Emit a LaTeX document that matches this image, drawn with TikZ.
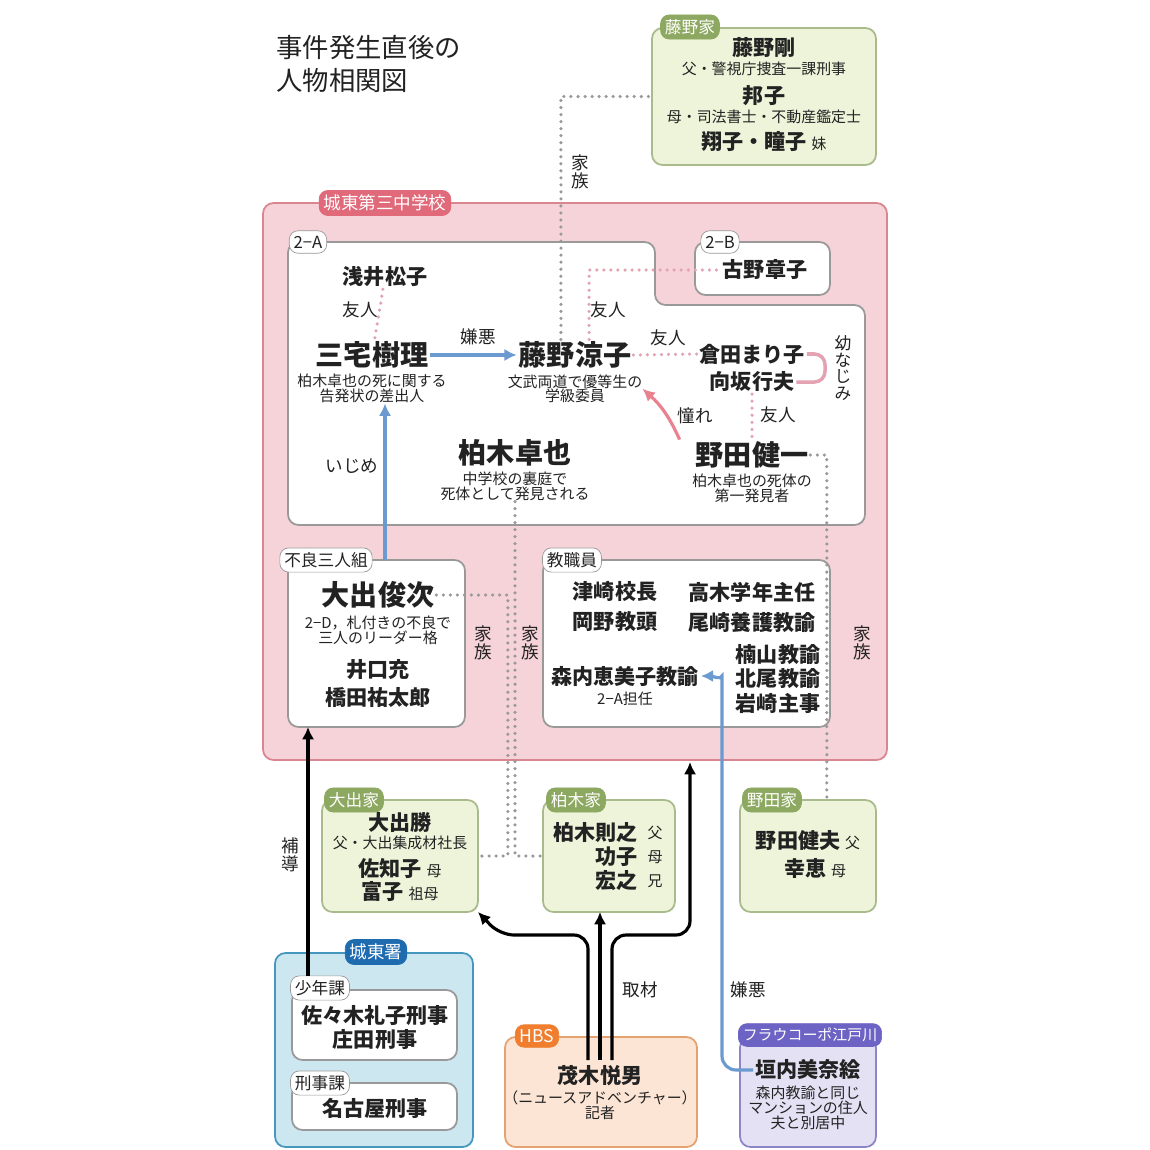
\documentclass[tikz,border=0pt]{standalone}
\usepackage{fontspec}
\setmainfont{Noto Sans CJK JP}
\usetikzlibrary{positioning,arrows.meta}
\definecolor{ink}{HTML}{222222}
\definecolor{grnfill}{HTML}{EEF4DA}
\definecolor{grnline}{HTML}{A9BB8C}
\definecolor{grntag}{HTML}{8DA860}
\definecolor{pnkfill}{HTML}{F6D3D8}
\definecolor{pnkline}{HTML}{D8868F}
\definecolor{pnktag}{HTML}{E0697A}
\definecolor{pnkdot}{HTML}{E3A3B2}
\definecolor{bluefill}{HTML}{CDE7F0}
\definecolor{blueline}{HTML}{4597BE}
\definecolor{bluetag}{HTML}{1E6BB0}
\definecolor{orgfill}{HTML}{FCE5D4}
\definecolor{orgline}{HTML}{E5A271}
\definecolor{orgtag}{HTML}{F07E2E}
\definecolor{purfill}{HTML}{E4E1F4}
\definecolor{purline}{HTML}{8C86C6}
\definecolor{purtag}{HTML}{6C63C4}
\definecolor{arrowblue}{HTML}{6A9AD0}
\definecolor{dotgray}{HTML}{999999}
\newcommand\fs[1]{\fontsize{#1}{#1}\selectfont}
\newcommand\panel[6]{\node[#6, minimum width={(#4-#2)*0.02cm}, minimum height={(#5-#3)*0.02cm}] (#1) at ({(#2+#4)/2},{(#3+#5)/2}) {};}
\tikzset{
    box/.style={draw, rounded corners=6pt, line width=1pt, inner sep=0, outer sep=0},
    whitebox/.style={box, fill=white, draw=gray!80},
    tag/.style={draw, rounded corners=5pt, inner sep=2.5pt, minimum height=0.45cm, font=\fs{9.5}, text=white},
    wtag/.style={tag, fill=white, draw=gray!80, text=ink},
    big/.style={font=\bfseries\fs{16}, text=ink, inner sep=1pt},
    person/.style={font=\bfseries\fs{12}, text=ink, inner sep=1pt, align=center},
    sub/.style={font=\fs{8.5}, text=ink, inner sep=0pt, align=center},
    lbl/.style={font=\fs{10}, text=ink, inner sep=1pt},
    vlbl/.style={font=\fs{10}, text=ink, inner sep=1pt, align=center},
    famdot/.style={draw=dotgray, line width=2pt, line cap=round, dash pattern=on 0pt off 4pt},
    pinkdot/.style={draw=pnkdot, line width=2pt, line cap=round, dash pattern=on 0pt off 4pt},
    bluearrow/.style={draw=arrowblue, line width=1.8pt, -{Latex[length=7pt,width=7pt]}},
    blkarrow/.style={draw=black, line width=1.8pt, -{Latex[length=7pt,width=7pt]}},
}
\begin{document}
\begin{tikzpicture}[x=0.02cm, y=-0.02cm]
    \fill[white] (0,0) rectangle (1150,1150);
    \useasboundingbox (0,0) rectangle (1150,1150);

    % title
    \node[font=\fs{15}, text=ink, align=left, anchor=north west, inner sep=0] (title) at (276,35) {事件発生直後の\\[4pt]人物相関図};

    % family of Fujino
    \panel{fujinoke}{652}{28}{876}{165}{box, fill=grnfill, draw=grnline}
    \node[tag, fill=grntag, draw=grntag] at (690,27) {藤野家};
    \node[person] (tsuyoshi) at (764,48) {藤野剛};
    \node[sub, below=1pt of tsuyoshi] {父・警視庁捜査一課刑事};
    \node[person] (kuniko) at (764,96) {邦子};
    \node[sub, below=1pt of kuniko] {母・司法書士・不動産鑑定士};
    \node[person] (sisters) at (764,142) {翔子・瞳子 \mdseries\fs{8.5}妹};

    % school
    \panel{school}{263}{203}{887}{760}{box, fill=pnkfill, draw=pnkline}
    \node[tag, fill=pnktag, draw=pnktag, font=\fs{10}] at (385,203) {城東第三中学校};

    % class 2-A and 2-B
    \draw[fill=white, draw=gray!80, line width=1pt, rounded corners=6pt]
        (288,242) -- (655,242) -- (655,305) -- (865,305) -- (865,525) -- (288,525) -- cycle;
    \node[wtag] at (308,242) {2−A};
    \panel{classb}{695}{242}{830}{295}{whitebox}
    \node[wtag] at (720,242) {2−B};

    \node[person] (asai) at (385,277) {浅井松子};
    \node[big] (miyake) at (372,355) {三宅樹理};
    \node[sub, below=2pt of miyake] (miyakesub) {柏木卓也の死に関する\\告発状の差出人};
    \node[big] (fujino) at (575,355) {藤野涼子};
    \node[sub, below=2pt of fujino] (fujinosub) {文武両道で優等生の\\学級委員};
    \node[person] (furuno) at (765,270) {古野章子};
    \node[person] (kurata) at (752,354) {倉田まり子};
    \node[person] (sakisaka) at (752,382) {向坂行夫};
    \node[big] (noda) at (752,455) {野田健一};
    \node[sub, below=2pt of noda] {柏木卓也の死体の\\第一発見者};
    \node[big] (kashiwagi) at (515,453) {柏木卓也};
    \node[sub, below=2pt of kashiwagi] (kashiwagisub) {中学校の裏庭で\\死体として発見される};

    \draw[pinkdot] (asai) -- (miyake);
    \node[lbl] at (360,310) {友人};
    \draw[bluearrow] (miyake) -- (fujino);
    \node[lbl] at (478,337) {嫌悪};
    \draw[pinkdot] ([xshift=8]fujino.north) |- (furuno.west);
    \node[lbl] at (608,310) {友人};
    \draw[pinkdot] (fujino.east) -- (kurata.west);
    \node[lbl] at (668,338) {友人};
    \draw[draw=pnkdot, line width=2pt, rounded corners=6pt] (kurata.east) -- (825,354) -- (825,382) -- (sakisaka.east);
    \node[vlbl, font=\fs{9.5}] at (843,368) {幼\\な\\じ\\み};
    \draw[pinkdot] (sakisaka) -- (noda);
    \node[lbl] at (778,415) {友人};
    \draw[draw=pnkdot!80!red, line width=1.8pt, -{Latex[length=7pt,width=7pt]}] ([xshift=-8]noda.north west) to[bend right=12] (fujinosub.east);
    \node[lbl] at (695,416) {憧れ};
    \node[lbl] at (352,466) {いじめ};

    % bad trio
    \panel{furyo}{288}{560}{465}{727}{whitebox}
    \node[wtag] at (326,560) {不良三人組};
    \node[big] (oide) at (378,595) {大出俊次};
    \node[sub, below=3pt of oide] (oidesub) {2−D，札付きの不良で\\三人のリーダー格};
    \node[person] (iguchi) at (378,670) {井口充};
    \node[person] (hashida) at (378,697) {橋田祐太郎};
    \coordinate (ijime) at (385,560);
    \draw[bluearrow] (ijime) -- (ijime |- miyakesub.south);

    % staff
    \panel{staff}{543}{560}{830}{727}{whitebox}
    \node[wtag] at (572,560) {教職員};
    \node[person] (tsuzaki) at (615,592) {津崎校長};
    \node[person] (takagi) at (752,592) {高木学年主任};
    \node[person] (okano) at (615,622) {岡野教頭};
    \node[person] (ozaki) at (752,622) {尾崎養護教諭};
    \node[person] (kusuyama) at (778,655) {楠山教諭};
    \node[person] (kitao) at (778,679) {北尾教諭};
    \node[person] (iwasaki) at (778,703) {岩崎主事};
    \node[person] (moriuchi) at (625,676) {森内恵美子教諭};
    \node[sub, below=2pt of moriuchi] {2−A担任};

    % families
    \panel{oideke}{322}{800}{478}{912}{box, fill=grnfill, draw=grnline}
    \node[tag, fill=grntag, draw=grntag] at (354,800) {大出家};
    \node[person] (masaru) at (400,822) {大出勝};
    \node[sub, below=1pt of masaru] {父・大出集成材社長};
    \node[person] at (400,869) {佐知子 \mdseries\fs{8.5}母};
    \node[person] at (400,892) {富子 \mdseries\fs{8.5}祖母};

    \panel{kashiwagike}{543}{800}{675}{912}{box, fill=grnfill, draw=grnline}
    \node[tag, fill=grntag, draw=grntag] at (576,800) {柏木家};
    \node[person, anchor=east] at (640,833) {柏木則之};
    \node[person, anchor=east] at (640,857) {功子};
    \node[person, anchor=east] at (640,881) {宏之};
    \node[sub] at (655,833) {父};
    \node[sub] at (655,857) {母};
    \node[sub] at (655,881) {兄};

    \panel{notake}{740}{800}{876}{912}{box, fill=grnfill, draw=grnline}
    \node[tag, fill=grntag, draw=grntag] at (772,800) {野田家};
    \node[person] at (808,841) {野田健夫 \mdseries\fs{8.5}父};
    \node[person] at (815,868) {幸恵 \mdseries\fs{8.5}母};

    \draw[famdot] ([xshift=-8]fujino.north) |- (fujinoke.west);
    \node[vlbl] at (580,172) {家\\族};
    \draw[famdot] (oide.east) -| ([xshift=17]oideke.east) -- (oideke.east);
    \node[vlbl] at (483,643) {家\\族};
    \draw[famdot] (kashiwagisub.south) |- (kashiwagike.west);
    \node[vlbl] at (530,643) {家\\族};
    \draw[famdot] (noda.east) -| ([xshift=-28]notake.north east);
    \node[vlbl] at (862,643) {家\\族};

    % police
    \panel{police}{275}{953}{473}{1147}{box, fill=bluefill, draw=blueline}
    \node[tag, fill=bluetag, draw=bluetag, font=\fs{10}] at (376,952) {城東署};
    \panel{shonen}{292}{990}{457}{1060}{whitebox}
    \node[wtag] at (320,988) {少年課};
    \node[person] (sasaki) at (375,1016) {佐々木礼子刑事};
    \node[person] (shoda) at (375,1040) {庄田刑事};
    \panel{keiji}{292}{1083}{457}{1130}{whitebox}
    \node[wtag] at (320,1083) {刑事課};
    \node[person] (nagoya) at (375,1108) {名古屋刑事};
    \coordinate (hodo) at (308,976);
    \draw[blkarrow] (hodo) -- (hodo |- furyo.south);
    \node[vlbl] at (290,855) {補\\導};

    % HBS
    \panel{hbs}{505}{1037}{697}{1147}{box, fill=orgfill, draw=orgline}
    \node[tag, fill=orgtag, draw=orgtag, font=\fs{10}] at (537,1036) {HBS};
    \node[person] (mogi) at (600,1076) {茂木悦男};
    \node[sub, below=1pt of mogi] {（ニュースアドベンチャー）\\記者};
    \coordinate (m1) at (588,1060);
    \coordinate (m2) at (600,1060);
    \coordinate (m3) at (612,1060);
    \coordinate (edu) at (690,762);
    \draw[blkarrow, rounded corners=8pt] (m1) |- (500,935) -- (oideke.south east);
    \draw[blkarrow] (m2) -- (m2 |- kashiwagike.south);
    \draw[blkarrow, rounded corners=8pt] (m3) |- (690,935) -- (edu);
    \node[lbl] at (640,990) {取材};

    % Frau Corpo
    \panel{frau}{740}{1037}{876}{1147}{box, fill=purfill, draw=purline}
    \node[tag, fill=purtag, draw=purtag, font=\fs{8.5}] at (810,1035) {フラウコーポ江戸川};
    \node[person] (kakiuchi) at (808,1070) {垣内美奈絵};
    \node[sub, below=2pt of kakiuchi] {森内教諭と同じ\\マンションの住人\\夫と別居中};
    \draw[bluearrow, rounded corners=8pt] (kakiuchi.west) -- (722,1070) -- (722,690) to[out=90, in=0] (moriuchi.east);
    \node[lbl] at (748,990) {嫌悪};
\end{tikzpicture}
\end{document}
